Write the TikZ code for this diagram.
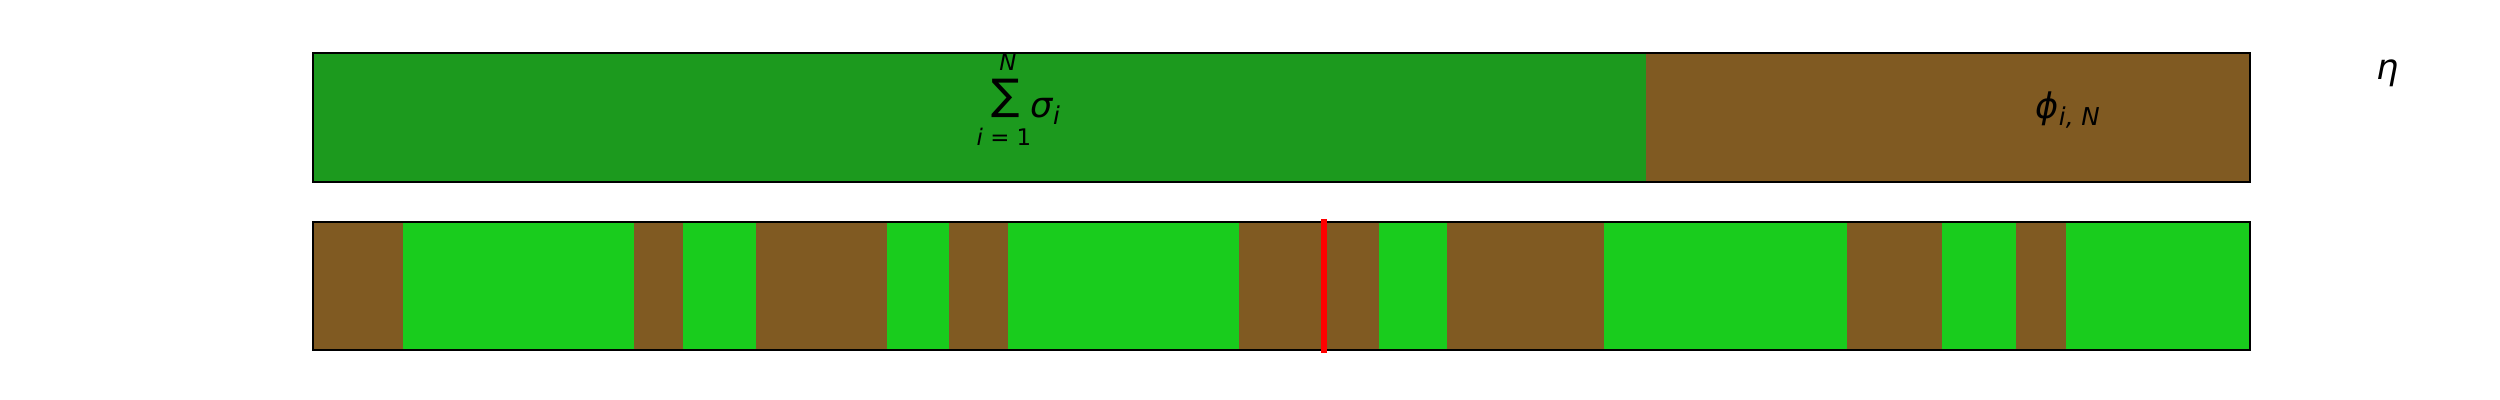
\documentclass[tikz,border=0pt]{standalone}
\usepackage{fontspec}
\setmainfont{DejaVu Sans}
\definecolor{darkleaf}{RGB}{28,154,30}
\definecolor{soil}{RGB}{128,90,34}
\definecolor{leaf}{RGB}{25,204,29}
\tikzset{
	barframe/.style={draw=black, line width=0.55pt},
	lbl/.style={inner sep=0pt, font=\fontsize{10}{12}\selectfont\itshape},
	limit/.style={inner sep=0pt, font=\fontsize{6.5}{8}\selectfont}
}
\newcommand{\subtxt}[1]{\raisebox{-0.22em}{\fontsize{7}{8}\selectfont\itshape #1}}
\begin{document}
\begin{tikzpicture}[x=0.01cm, y=-0.01cm]
	\useasboundingbox (0,0) rectangle (2500,400);
	\path (313,53) coordinate (T0)
	(1646,182) coordinate (T1)
	(2250,182) coordinate (T2)
	(313,222) coordinate (B0)
	(2250,350) coordinate (B1)
	(1324,219) coordinate (R0)
	(1324,353) coordinate (R1);
	% top bar
	\fill[darkleaf] (T0) rectangle (T1);
	\fill[soil] (1646,53) rectangle (T2);
	\draw[barframe] (T0) rectangle (T2);
	% bottom bar
	\foreach \a/\b/\c in {313/403/soil, 403/634/leaf, 634/683/soil, 683/756/leaf,
		756/887/soil, 887/949/leaf, 949/1008/soil, 1008/1239/leaf,
		1239/1379/soil, 1379/1447/leaf, 1447/1604/soil, 1604/1847/leaf,
		1847/1942/soil, 1942/2016/leaf, 2016/2066/soil, 2066/2250/leaf}
		\fill[\c] (\a,222) rectangle (\b,350);
	\draw[barframe] (B0) rectangle (B1);
	\draw[red, line width=1.7pt] (R0) -- (R1);
	% labels
	\node[inner sep=0pt, font=\fontsize{12}{14}\selectfont] (sumsig) at (1005.5,98) {∑};
	\node[limit, anchor=base] (sumtop) at (1008,70) {\itshape N};
	\node[limit, anchor=base] (sumbot) at (1004,145) {{\itshape i} = 1};
	\node[lbl, anchor=base west] (sigma) at (1030,117) {σ\subtxt{i}};
	\node[lbl, anchor=base west] (phi) at (2035,118) {ϕ\subtxt{i, N}};
	\node[lbl, anchor=base west] (eta) at (2376,80) {η};
\end{tikzpicture}
\end{document}
